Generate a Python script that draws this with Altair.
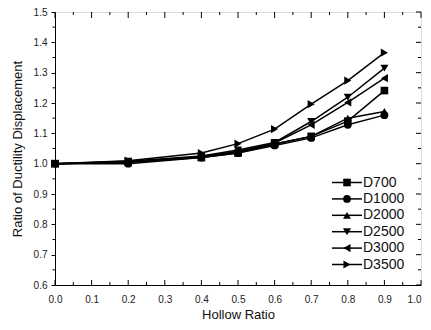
import altair as alt
import pandas as pd

hollow = [0.0, 0.2, 0.4, 0.5, 0.6, 0.7, 0.8, 0.9]
series = ["D700", "D1000", "D2000", "D2500", "D3000", "D3500"]
d700 = [1.0, 1.005, 1.020, 1.035, 1.065, 1.090, 1.140, 1.241]
d1000 = [1.0, 1.000, 1.020, 1.035, 1.060, 1.085, 1.128, 1.160]
d2000 = [1.0, 1.005, 1.022, 1.040, 1.065, 1.090, 1.150, 1.172]
d2500 = [1.0, 1.008, 1.025, 1.045, 1.070, 1.139, 1.219, 1.315]
d3000 = [1.0, 1.006, 1.022, 1.040, 1.068, 1.128, 1.202, 1.282]
d3500 = [1.0, 1.010, 1.035, 1.066, 1.114, 1.196, 1.274, 1.366]
values = [d700, d1000, d2000, d2500, d3000, d3500]
shapes = ["square", "circle", "triangle-up", "triangle-down", "triangle-left", "triangle-right"]
marker_sizes = [58, 68, 105, 105, 105, 105]

x_major = [0.0, 0.1, 0.2, 0.3, 0.4, 0.5, 0.6, 0.7, 0.8, 0.9, 1.0]
x_minor = [0.05, 0.15, 0.25, 0.35, 0.45, 0.55, 0.65, 0.75, 0.85, 0.95]
y_major = [0.6, 0.7, 0.8, 0.9, 1.0, 1.1, 1.2, 1.3, 1.4, 1.5]
y_minor = [0.65, 0.75, 0.85, 0.95, 1.05, 1.15, 1.25, 1.35, 1.45]

rows = []
for name, vals in zip(series, values):
    for h, v in zip(hollow, vals):
        rows.append({"series": name, "hollow": h, "ratio": v})
df = pd.DataFrame(rows)
leg = pd.DataFrame({"series": series})

W, H = 366, 273
FONT = "Liberation Sans"
xs = alt.Scale(domain=[0, 1], nice=False, zero=False)
ys = alt.Scale(domain=[0.6, 1.5], nice=False, zero=False)
shape_scale = alt.Scale(domain=series, range=shapes)
size_scale = alt.Scale(domain=series, range=marker_sizes)

x_axis = alt.Axis(values=x_major, format=".1f", ticks=False, tickSize=0, grid=False,
                  labelFlush=False, domainColor="black", labelFont=FONT, labelFontSize=10,
                  labelColor="#222", labelPadding=9,
                  labelAlign=alt.ExprRef("datum.value >= 1 ? 'right' : 'center'"),
                  title="Hollow Ratio", titleFont=FONT,
                  titleFontSize=13, titleFontWeight="normal", titleColor="#111", titlePadding=4)
y_axis = alt.Axis(values=y_major, format=".1f", tickSize=4, tickColor="black", grid=False,
                  labelFlush=False, domainColor="black", labelFont=FONT, labelFontSize=10,
                  labelColor="#222", labelPadding=4, title="Ratio of Ductility Displacement",
                  titleFont=FONT, titleFontSize=13, titleFontWeight="normal", titleColor="#111",
                  titlePadding=9)

lines = alt.Chart(df).mark_line(color="black", strokeWidth=1.5).encode(
    x=alt.X("hollow:Q", scale=xs, axis=x_axis),
    y=alt.Y("ratio:Q", scale=ys, axis=y_axis),
    detail="series:N",
)
points = alt.Chart(df).mark_point(filled=True, color="black", opacity=1).encode(
    x=alt.X("hollow:Q", scale=xs, axis=x_axis),
    y=alt.Y("ratio:Q", scale=ys, axis=None),
    shape=alt.Shape("series:N", scale=shape_scale, legend=None),
    size=alt.Size("series:N", scale=size_scale, legend=None),
)

def xticks(vals, y0, y1):
    return alt.Chart(pd.DataFrame({"hollow": vals})).mark_rule(color="black", strokeWidth=1).encode(
        x=alt.X("hollow:Q", scale=xs, axis=x_axis), y=alt.value(y0), y2=alt.value(y1))

def yticks(vals, x0, x1):
    return alt.Chart(pd.DataFrame({"v": vals})).mark_rule(color="black", strokeWidth=1).encode(
        y=alt.Y("v:Q", scale=ys, axis=None), x=alt.value(x0), x2=alt.value(x1))

ticks = [
    xticks(x_major, 0, 6), xticks(x_minor, 0, 3),
    xticks(x_major, H, H - 5), xticks(x_minor, H, H - 3),
    yticks(y_minor, -2.5, 0),
    yticks(y_major, W, W - 5), yticks(y_minor, W, W - 3),
]

leg_y = alt.Y("series:N", scale=alt.Scale(type="point", domain=series, range=[170.5, 252.5], padding=0), axis=None)
leg_line = alt.Chart(leg).mark_rule(color="black", strokeWidth=1.5).encode(
    y=leg_y, x=alt.value(277), x2=alt.value(307))
leg_pt = alt.Chart(leg).mark_point(filled=True, color="black", opacity=1).encode(
    y=leg_y, x=alt.value(292),
    shape=alt.Shape("series:N", scale=shape_scale, legend=None),
    size=alt.Size("series:N", scale=size_scale, legend=None))
leg_txt = alt.Chart(leg).mark_text(align="left", baseline="middle", font=FONT, fontSize=14,
                                   color="#111", dx=1).encode(
    y=leg_y, x=alt.value(307), text="series:N")

chart = alt.layer(lines, points, *ticks, leg_line, leg_pt, leg_txt).resolve_scale(
    y="independent"
).properties(
    width=W, height=H,
    autosize=alt.AutoSizeParams(type="none"),
    padding={"left": 47, "top": 4, "right": 2, "bottom": 37},
).configure_view(stroke="black", strokeWidth=1).configure(background="white")

chart.save("out.html", embed_options={"renderer": "svg", "actions": False})
